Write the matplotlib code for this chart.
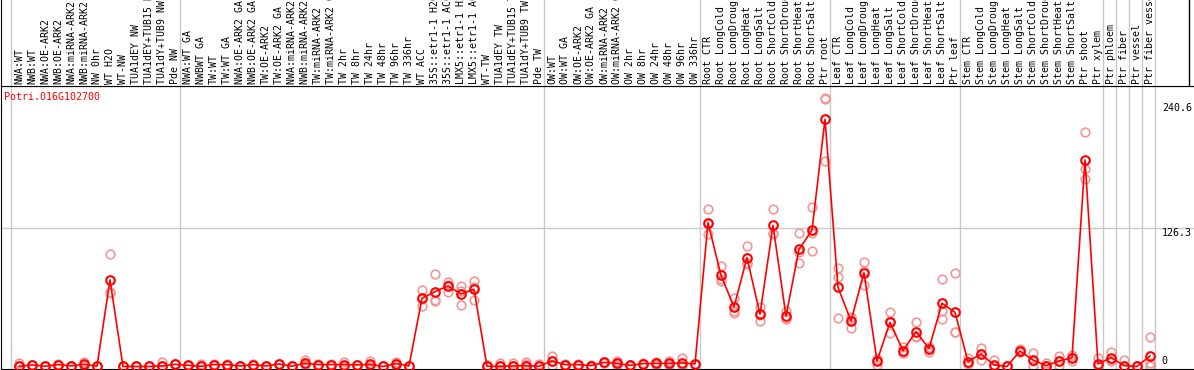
import matplotlib.pyplot as plt
import numpy as np

gene = "Potri.016G102700"

samples = [
    "NWA:WT", "NWB:WT", "NWA:OE-ARK2", "NWB:OE-ARK2", "NWA:miRNA-ARK2", "NWB:miRNA-ARK2",
    "NW 0hr", "WT H2O", "WT-NW", "TUA1dEY NW", "TUA1dEY+TUB15 NW", "TUA1dY+TUB9 NW", "Pde NW",
    "NWA:WT GA", "NWBWT GA", "TW:WT", "TW:WT GA", "NWA:OE-ARK2 GA", "NWB:OE-ARK2 GA",
    "TW:OE-ARK2", "TW:OE-ARK2 GA", "NWA:miRNA-ARK2 GA", "NWB:miRNA-ARK2 GA", "TW:miRNA-ARK2",
    "TW:miRNA-ARK2 GA", "TW 2hr", "TW 8hr", "TW 24hr", "TW 48hr", "TW 96hr", "TW 336hr",
    "WT ACC", "35S::etr1-1 H2O", "35S::etr1-1 ACC", "LMX5::etr1-1 H2O", "LMX5::etr1-1 ACC",
    "WT-TW", "TUA1dEY TW", "TUA1dEY+TUB15 TW", "TUA1dY+TUB9 TW", "Pde TW",
    "OW:WT", "OW:WT GA", "OW:OE-ARK2", "OW:OE-ARK2 GA", "OW:miRNA-ARK2", "OW:miRNA-ARK2 GA",
    "OW 2hr", "OW 8hr", "OW 24hr", "OW 48hr", "OW 96hr", "OW 336hr",
    "Root CTR", "Root LongCold", "Root LongDrought", "Root LongHeat", "Root LongSalt",
    "Root ShortCold", "Root ShortDrought", "Root ShortHeat", "Root ShortSalt", "Ptr root",
    "Leaf CTR", "Leaf LongCold", "Leaf LongDrought", "Leaf LongHeat", "Leaf LongSalt",
    "Leaf ShortCold", "Leaf ShortDrought", "Leaf ShortHeat", "Leaf ShortSalt", "Ptr leaf",
    "Stem CTR", "Stem LongCold", "Stem LongDrought", "Stem LongHeat", "Stem LongSalt",
    "Stem ShortCold", "Stem ShortDrought", "Stem ShortHeat", "Stem ShortSalt", "Ptr shoot",
    "Ptr xylem", "Ptr phloem", "Ptr fiber", "Ptr vessel", "Ptr fiber vessel",
]

means = [
    0.2, 1.4, 0.2, 1.7, 0.5, 2.0, 0.2, 79.0, 0.0, 0.0, 0.0, 0.5, 2.0,
    1.0, 0.2, 1.7, 1.7, 0.5, 1.7, 0.5, 2.3, 0.2, 3.0, 1.7, 1.7, 1.7, 1.4,
    2.0, 0.0, 2.6, 0.5, 62.2, 68.3, 73.4, 66.2, 70.4, 0.2, 0.2, 0.5, 0.8, 0.2,
    5.0, 1.7, 1.7, 0.8, 3.7, 2.8, 1.0, 2.6, 2.8, 2.8, 3.2, 2.3,
    131.2, 83.2, 54.3, 99.3, 47.6, 128.8, 46.0, 106.9, 124.3, 225.5,
    72.3, 41.5, 85.6, 5.0, 40.3, 14.4, 31.8, 16.3, 57.7, 49.4,
    4.4, 11.4, 1.4, 0.0, 14.1, 5.9, 0.7, 5.0, 8.0, 188.4,
    2.3, 8.1, 0.8, 0.0, 9.6,
]

reps = [
    [3.0, 0.2, 0.3], [1.4, 1.8, 1.0], [0.2, 0.5, 0.0], [1.7, 2.0, 1.4], [0.5, 0.8, 0.3],
    [4.0, 1.5, 0.5], [0.2, 0.4, 0.0], [102.6, 67.0, 67.5], [0.0, 0.0, 0.0], [0.0, 0.3, 0.0],
    [0.0, 0.5, 0.5], [4.0, 0.0, 0.0], [2.0, 2.5, 2.3],
    [1.0, 1.2, 0.8], [2.5, 0.0, 0.0], [1.7, 2.0, 1.5], [1.7, 1.9, 1.5], [0.5, 0.8, 0.3],
    [1.7, 2.0, 1.5], [0.5, 0.7, 0.3], [2.3, 2.6, 2.0], [0.2, 0.4, 0.0], [6.0, 2.0, 1.0],
    [1.7, 2.0, 1.4], [1.7, 1.9, 1.5], [4.0, 0.8, 0.3], [1.4, 1.6, 1.2], [4.7, 1.0, 0.3],
    [0.0, 0.2, 0.0], [4.5, 2.0, 1.3], [0.5, 0.7, 0.3],
    [70.0, 55.0, 61.6], [84.4, 61.0, 59.5], [77.4, 68.3, 74.5], [73.4, 56.0, 69.2],
    [78.3, 60.7, 72.2],
    [1.5, 0.0, 0.0], [3.0, 0.0, 0.0], [3.5, 0.0, 0.0], [4.5, 2.5, 0.0], [2.5, 0.0, 0.0],
    [9.9, 0.5, 4.6], [1.7, 1.9, 1.5], [1.7, 2.0, 1.4], [0.8, 1.0, 0.6], [4.5, 3.5, 3.2],
    [5.2, 2.0, 1.2], [1.0, 1.3, 0.7], [2.6, 2.8, 2.4], [4.5, 2.5, 1.5], [5.0, 2.0, 1.5],
    [7.5, 1.5, 0.6], [2.3, 2.5, 2.1],
    [143.4, 120.6, 129.6], [91.7, 78.0, 80.0], [62.8, 49.0, 51.0], [110.0, 93.2, 94.7],
    [54.6, 41.5, 46.7], [143.4, 122.0, 121.0], [50.6, 43.0, 44.4], [122.0, 94.7, 104.0],
    [145.5, 105.4, 122.0], [243.8, 187.5, 245.2],
    [89.6, 82.0, 44.0], [34.8, 44.5, 45.0], [95.0, 74.4, 87.4], [1.4, 6.5, 7.0],
    [49.5, 30.3, 41.1], [18.0, 12.5, 12.7], [40.3, 27.8, 27.3], [17.5, 13.5, 18.0],
    [79.5, 43.0, 50.6], [85.6, 31.2, 31.5],
    [7.5, 3.0, 2.7], [16.6, 5.9, 11.7], [6.0, 0.0, 0.0], [0.0, 0.3, 0.0], [15.5, 13.5, 13.3],
    [12.0, 0.5, 5.2], [3.5, 0.0, 0.0], [9.6, 0.5, 5.0], [10.5, 5.0, 8.5],
    [214.2, 180.0, 170.8],
    [7.5, 0.0, 0.0], [13.5, 6.0, 5.0], [6.0, 0.0, 0.0], [0.0, 0.0, 0.0], [26.6, 3.0, 0.0],
]

# last sample of each group (1-based), 0 = line before the first sample
group_ends = [0, 13, 41, 53, 63, 73, 84, 85, 86, 87, 88]
y_labels = [0, 126.3, 240.6]

W, H = 1194, 370
mono = "DejaVu Sans Mono"
grid_col = "#c8c8c8"

fig = plt.figure(figsize=(W / 100, H / 100), dpi=100)
ax = fig.add_axes([1 / W, 1 / H, 1193 / W, 283 / H])
top = fig.add_axes([1 / W, 284 / H, 1193 / W, 86 / H])

x = np.arange(len(samples))
xmin, xmax = -18 / 13, 1175 / 13

# group separators, through the label strip as well
for e in group_ends:
    xg = e - 0.5 - 0.12
    ax.axvline(xg, color=grid_col, lw=1, zorder=0)
    top.axvline(xg, color=grid_col, lw=1, zorder=0)
ax.axhline(126.3, color=grid_col, lw=1, zorder=0)

# replicates first, then the mean line on top
for i, r in enumerate(reps):
    ax.plot([i] * len(r), r, "o", ms=6.2, mfc="none", mec="#f09898", mew=1.2, zorder=2)
ax.plot(x, means, color="red", lw=1.2, marker="o", ms=6.2, mfc="none", mec="red",
        mew=1.5, zorder=3)

ax.set_xlim(xmin, xmax)
ax.set_ylim(-2.3, 255.9)
ax.set_xticks([])
ax.set_yticks([])
ax.spines["right"].set_visible(False)
for s in ["left", "bottom", "top"]:
    ax.spines[s].set_color("black")

# value labels on the right, inside the plot
for v in y_labels:
    ax.text(0.973, v, str(v), transform=ax.get_yaxis_transform(), ha="left",
            va="bottom" if v == 0 else "top", fontsize=7.2, family=mono, color="black")

ax.text(3 / 1193, 1 - 11 / 283, gene, transform=ax.transAxes, ha="left", va="center",
        fontsize=7.2, family=mono, color="red")

# sample names in the strip above (long ones run off the top, as in the original)
top.set_xlim(xmin, xmax)
top.set_ylim(0, 1)
top.set_xticks([])
top.set_yticks([])
top.spines["top"].set_visible(False)
top.spines["right"].set_visible(False)
top.axvline(90.0, color="black", lw=1)
for i, name in enumerate(samples):
    top.text(i, 2.5 / 86, name, rotation=90, ha="center", va="bottom",
             fontsize=7.1, family=mono, transform=top.get_xaxis_transform())

fig.savefig("out.png", dpi=100)
